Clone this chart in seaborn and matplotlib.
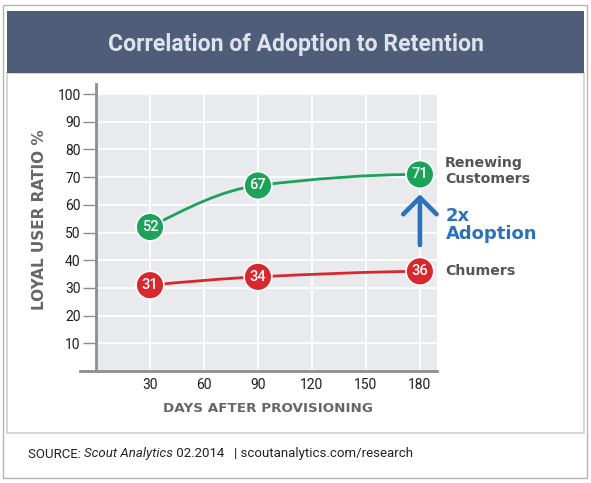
import numpy as np
import pandas as pd
import matplotlib
matplotlib.use('Agg')
import matplotlib.pyplot as plt
import seaborn as sns
from matplotlib.patches import Rectangle, PathPatch
from matplotlib.path import Path

# data
days = [30, 90, 180]
renewing = [52, 67, 71]
churners = [31, 34, 36]
x_ticks = [30, 60, 90, 120, 150, 180]
y_ticks = [10, 20, 30, 40, 50, 60, 70, 80, 90, 100]

GREEN = '#1ba35b'
RED = '#d9272e'
BLUE = '#2b72b9'
BANNER = '#4f5d78'
WIDE = ['DejaVu Sans']
NARROW = ['Liberation Sans Narrow', 'Roboto', 'DejaVu Sans']

W, H = 591, 483


def fx(x):
    return x / W


def fy(y):
    return 1 - y / H


def smooth_path(xs, ys):
    # monotone cubic (pchip style) drawn as bezier segments
    xs = np.asarray(xs, float)
    ys = np.asarray(ys, float)
    h = np.diff(xs)
    d = np.diff(ys) / h
    n = len(xs)
    m = np.zeros(n)
    for i in range(1, n - 1):
        if d[i - 1] * d[i] > 0:
            w1 = 2 * h[i] + h[i - 1]
            w2 = h[i] + 2 * h[i - 1]
            m[i] = (w1 + w2) / (w1 / d[i - 1] + w2 / d[i])
    m[0] = ((2 * h[0] + h[1]) * d[0] - h[0] * d[1]) / (h[0] + h[1])
    m[-1] = ((2 * h[-1] + h[-2]) * d[-1] - h[-1] * d[-2]) / (h[-1] + h[-2])
    if m[0] * d[0] <= 0:
        m[0] = 0
    if m[-1] * d[-1] <= 0:
        m[-1] = 0
    verts = [(xs[0], ys[0])]
    codes = [Path.MOVETO]
    for i in range(n - 1):
        verts += [(xs[i] + h[i] / 3, ys[i] + m[i] * h[i] / 3),
                  (xs[i + 1] - h[i] / 3, ys[i + 1] - m[i + 1] * h[i] / 3),
                  (xs[i + 1], ys[i + 1])]
        codes += [Path.CURVE4] * 3
    return Path(verts, codes)


sns.set_theme(style='white')
plt.rcParams['font.family'] = ['Roboto', 'DejaVu Sans']

fig = plt.figure(figsize=(W / 100, H / 100), dpi=100)

# frame, banner, panel (behind the axes)
fig.patches.append(Rectangle((fx(3), fy(478)), fx(584), 473 / H, transform=fig.transFigure,
                             fill=False, ec='#b5b5b5', lw=1, zorder=-10))
fig.patches.append(Rectangle((fx(7), fy(433)), fx(577), 360 / H, transform=fig.transFigure,
                             fc='white', ec='#d0d0d0', lw=1.2, zorder=-10))
fig.patches.append(Rectangle((fx(7), fy(73)), fx(577), 62 / H, transform=fig.transFigure,
                             fc=BANNER, ec='none', zorder=-9))
fig.text(fx(296), fy(44.5), 'Correlation of Adoption to Retention', ha='center', va='center',
         color='#dbe4ee', fontsize=16.6, fontweight='bold', family=NARROW)

ax = fig.add_axes([fx(96), fy(371), 341 / W, 278 / H])
ax.set_facecolor('#e9eaee')
ax.set_xlim(0, 189.5)
ax.set_ylim(0, 100.4)
ax.set_xticks(x_ticks)
ax.set_yticks(y_ticks)
ax.grid(True, color='white', lw=1.3)
ax.set_axisbelow(True)

for s in ['top', 'right']:
    ax.spines[s].set_visible(False)
for s in ['left', 'bottom']:
    ax.spines[s].set_color('#8e8e8e')
    ax.spines[s].set_linewidth(2)
ax.spines['left'].set_bounds(0, 103.5)
ax.spines['bottom'].set_bounds(-9, 189.5)

ax.tick_params(axis='y', left=True, length=9.5, width=1, color='#8e8e8e', pad=1.5,
               labelsize=10, labelcolor='#1e1e1e')
ax.tick_params(axis='x', bottom=False, length=0, pad=5, labelsize=10, labelcolor='#1e1e1e')
for lab in ax.get_xticklabels() + ax.get_yticklabels():
    lab.set_family(NARROW)

for vals, col in [(renewing, GREEN), (churners, RED)]:
    ax.add_patch(PathPatch(smooth_path(days, vals), fill=False, ec=col, lw=2, zorder=2))

df = pd.DataFrame({
    'day': days * 2,
    'ratio': renewing + churners,
    'group': ['Renewing'] * 3 + ['Churners'] * 3,
})
sns.scatterplot(data=df, x='day', y='ratio', hue='group', palette={'Renewing': GREEN, 'Churners': RED},
                s=400, edgecolor='white', linewidth=1.2, legend=False, zorder=3, ax=ax, clip_on=False)
for d, v in zip(df['day'], df['ratio']):
    ax.text(d, v, str(v), ha='center', va='center', color='white', fontsize=10.5,
            fontweight='medium', zorder=4)
ax.set_xlabel('')
ax.set_ylabel('')

ax.annotate('', xy=(180, 63.8), xytext=(180, 45.5), annotation_clip=False,
            arrowprops=dict(arrowstyle='->,head_length=1.0,head_width=1.0', lw=3.3, color=BLUE,
                            shrinkA=0, shrinkB=0))

fig.text(fx(40), fy(220), 'LOYAL USER RATIO %', rotation=90, ha='center', va='center',
         color='#666666', fontsize=11, fontweight='bold', family=WIDE)
fig.text(fx(268), fy(408), 'DAYS AFTER PROVISIONING', ha='center', va='center',
         color='#666666', fontsize=9.7, fontweight='bold', family=WIDE)

fig.text(fx(445), fy(171), 'Renewing\nCustomers', ha='left', va='center', color='#555555',
         fontsize=10.2, fontweight='bold', linespacing=1.15, family=WIDE)
fig.text(fx(445), fy(271), 'Chumers', ha='left', va='center', color='#555555',
         fontsize=10.2, fontweight='bold', family=WIDE)
fig.text(fx(446), fy(225), '2x\nAdoption', ha='left', va='center', color=BLUE,
         fontsize=13, fontweight='bold', linespacing=0.95, family=WIDE)

# source line, pieces chained left to right
fig.canvas.draw()
renderer = fig.canvas.get_renderer()
x0 = fx(28)
for txt, style in [('SOURCE: ', 'normal'), ('Scout Analytics', 'italic'),
                   (' 02.2014   | scoutanalytics.com/research', 'normal')]:
    t = fig.text(x0, fy(454), txt, ha='left', va='center', color='#222222', fontsize=9.5,
                 style=style, family=NARROW)
    bb = t.get_window_extent(renderer)
    x0 = bb.x1 / W

fig.savefig('out.png', dpi=100)
